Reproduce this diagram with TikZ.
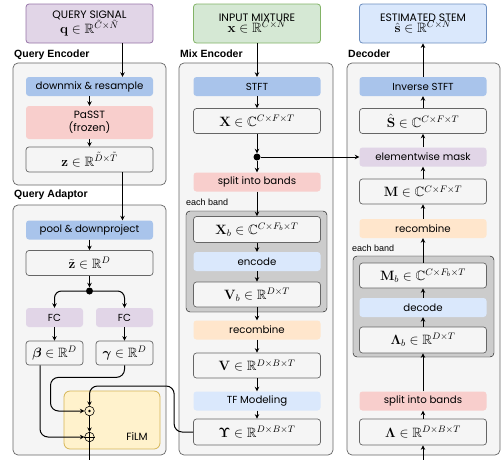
\RequirePackage{fix-cm}
\documentclass[tikz,border=0pt]{standalone}
\usepackage{amsmath,amssymb,bm}
\usepackage[no-math]{fontspec}
\setmainfont{Poppins}
\newfontfamily\ttlfont{Liberation Sans}
\usetikzlibrary{arrows.meta,positioning}

\definecolor{pfill}{HTML}{F5F5F5}
\definecolor{pborder}{HTML}{666666}
\definecolor{bandfill}{HTML}{CCCCCC}
\definecolor{dblue}{HTML}{A9C4EB}
\definecolor{lblue}{HTML}{DAE8FC}
\definecolor{pink}{HTML}{F8CECC}
\definecolor{orng}{HTML}{FFE6CC}
\definecolor{purp}{HTML}{E1D5E7}
\definecolor{purpb}{HTML}{9673A6}
\definecolor{grn}{HTML}{D5E8D4}
\definecolor{grnb}{HTML}{82B366}
\definecolor{blueb}{HTML}{6C8EBF}
\definecolor{yel}{HTML}{FFF2CC}
\definecolor{yelb}{HTML}{D6B656}

\newcommand{\iomath}[1]{{\fontsize{13.5}{14}\selectfont$#1$}}

\begin{document}
\begin{tikzpicture}[x=1pt,y=-1pt]
\tikzstyle{panel}=[draw=pborder, fill=pfill, rounded corners=5pt, line width=0.7pt]
\tikzstyle{band}=[fill=bandfill, rounded corners=4pt]
\tikzstyle{op}=[rectangle, rounded corners=3pt, minimum width=127pt, minimum height=19pt, inner sep=0pt, font=\fontsize{10.2}{12}\selectfont]
\tikzstyle{st}=[op, draw=pborder, fill=pfill, line width=0.7pt, minimum height=25pt, font=\fontsize{13.5}{15}\selectfont]
\tikzstyle{io}=[op, line width=0.8pt, minimum height=39pt, align=center, font=\fontsize{10.8}{12}\selectfont]
\tikzstyle{ttl}=[font=\ttlfont\bfseries\fontsize{10.5}{12}\selectfont, inner sep=0pt, anchor=base west]
\tikzstyle{sub}=[font=\ttlfont\fontsize{9}{10}\selectfont, inner sep=0pt, anchor=base west]
\tikzstyle{arr}=[-{Stealth[length=4.5pt,width=4.5pt]}, line width=1pt]
\tikzstyle{jn}=[circle, fill=black, inner sep=0pt, minimum size=7pt]
\tikzstyle{sym}=[circle, draw, line width=0.6pt, inner sep=0pt, minimum size=9.5pt]

\useasboundingbox (0,0) rectangle (501,459);

% panels
\draw[panel] (13,63) rectangle (166,185);
\draw[panel] (13,205) rectangle (166,455);
\draw[panel] (179,63) rectangle (333,455);
\draw[panel] (347,63) rectangle (500,455);
\draw[band] (186,211) rectangle (327,312);
\draw[band] (353,256) rectangle (494,357);
\draw[fill=yel, draw=yelb, rounded corners=6pt, line width=0.8pt] (64,391) rectangle (160,449);

\node[ttl] at (14,57) {Query Encoder};
\node[ttl] at (14,197) {Query Adaptor};
\node[ttl] at (180,57) {Mix Encoder};
\node[ttl] at (348,57) {Decoder};
\node[sub] at (186,205) {each band};
\node[sub] at (352,251) {each band};

% query branch
\node[io, fill=purp, draw=purpb] (qsig) at (89.5,23.5) {QUERY SIGNAL\\[-1pt]\iomath{\mathbf{q}\in\mathbb{R}^{\tilde{C}\times\tilde{N}}}};
\node[op, fill=dblue] (downmix) at (89.5,86.5) {downmix \& resample};
\node[op, fill=pink, minimum height=33pt, align=center, font=\fontsize{10.5}{13}\selectfont] (passt) at (89.5,122.5) {PaSST\\(frozen)};
\node[st] (z) at (89.5,159.5) {$\mathbf{z}\in\mathbb{R}^{\tilde{D}\times\tilde{T}}$};
\node[op, fill=dblue] (pool) at (89.5,230) {pool \& downproject};
\node[st] (zt) at (89.5,263) {$\tilde{\mathbf{z}}\in\mathbb{R}^{D}$};
\node[jn] (dot) at (89.5,291) {};
\node[op, fill=purp, minimum width=57pt] (fcb) at (54.5,317.5) {FC};
\node[op, fill=purp, minimum width=57pt] (fcg) at (124.5,317.5) {FC};
\node[st, minimum width=57pt, minimum height=24pt] (beta) at (54.5,353) {$\bm{\beta}\in\mathbb{R}^{D}$};
\node[st, minimum width=57pt, minimum height=24pt] (gamma) at (124.5,353) {$\bm{\gamma}\in\mathbb{R}^{D}$};
\node[sym] (odot) at (89.5,411) {};
\node[sym] (oplus) at (89.5,437) {};
\fill (odot) circle (1.3pt);
\draw[line width=0.6pt] (oplus.north) -- (oplus.south) (oplus.west) -- (oplus.east);
\node[font=\fontsize{10.5}{12}\selectfont] (film) at (137,436) {FiLM};
\coordinate (fout) at (89.5,465);

% mix encoder
\node[io, fill=grn, draw=grnb] (mix) at (257,23.5) {INPUT MIXTURE\\[-1pt]\iomath{\mathbf{x}\in\mathbb{R}^{C\times N}}};
\node[op, fill=dblue] (stft) at (257,86.5) {STFT};
\node[st] (X) at (257,121) {$\mathbf{X}\in\mathbb{C}^{C\times F\times T}$};
\node[jn] (dot2) at (257,157) {};
\node[op, fill=pink] (split) at (257,182) {split into bands};
\node[st, minimum height=26pt] (Xb) at (257,229.5) {$\mathbf{X}_b\in\mathbb{C}^{C\times F_b\times T}$};
\node[op, fill=lblue] (enc) at (257,261.5) {encode};
\node[st] (Vb) at (257,294.5) {$\mathbf{V}_b\in\mathbb{R}^{D\times T}$};
\node[op, fill=orng] (rec) at (257,330) {recombine};
\node[st] (V) at (257,365.5) {$\mathbf{V}\in\mathbb{R}^{D\times B\times T}$};
\node[op, fill=lblue] (tf) at (257,401) {TF Modeling};
\node[st, minimum height=26pt] (ups) at (257,432) {$\bm{\Upsilon}\in\mathbb{R}^{D\times B\times T}$};

% decoder
\node[io, fill=lblue, draw=blueb] (stem) at (423,23.5) {ESTIMATED STEM\\[-1pt]\iomath{\hat{\mathbf{s}}\in\mathbb{R}^{C\times N}}};
\node[op, fill=dblue] (istft) at (423,86.5) {Inverse STFT};
\node[st] (Sh) at (423,121) {$\hat{\mathbf{S}}\in\mathbb{C}^{C\times F\times T}$};
\node[op, fill=purp] (mask) at (423,157) {elementwise mask};
\node[st] (M) at (423,191.5) {$\mathbf{M}\in\mathbb{C}^{C\times F\times T}$};
\node[op, fill=orng] (rec2) at (423,228.5) {recombine};
\node[st] (Mb) at (423,275.5) {$\mathbf{M}_b\in\mathbb{C}^{C\times F_b\times T}$};
\node[op, fill=lblue] (dec) at (423,307.5) {decode};
\node[st, minimum height=26pt] (Lb) at (423,340) {$\bm{\Lambda}_b\in\mathbb{R}^{D\times T}$};
\node[op, fill=pink] (split2) at (423,401) {split into bands};
\node[st, minimum height=26pt] (L) at (423,432) {$\bm{\Lambda}\in\mathbb{R}^{D\times B\times T}$};
\coordinate (lin) at (423,465);

% query connectors
\draw[arr] ([xshift=33pt]qsig.south) -- ([xshift=33pt]downmix.north);
\draw[arr] (downmix) -- (passt);
\draw[arr] (passt) -- (z);
\draw[arr] ([xshift=33pt]z.south) -- ([xshift=33pt]pool.north);
\draw[arr] (pool) -- (zt);
\draw[arr] (zt) -- (dot);
\draw[arr, rounded corners=7pt] (dot) -| (fcb.north);
\draw[arr, rounded corners=7pt] (dot) -| (fcg.north);
\draw[arr] (fcb) -- (beta);
\draw[arr] (fcg) -- (gamma);
\draw[arr, rounded corners=8pt] (gamma.south) -- ++(0,12) -- ++(-74,0) |- (odot.west);
\draw[arr, rounded corners=8pt] ([xshift=-14.5pt]beta.south) |- (oplus.west);
\draw[arr, rounded corners=8pt] (ups.west) -- ++(-19,0) -- ++(0,-46) -| (odot.north);
\draw[arr] (odot) -- (oplus);
\draw[line width=1pt] (oplus.south) -- (fout);

% mix encoder connectors
\draw[arr] (mix) -- (stft);
\draw[arr] (stft) -- (X);
\draw[arr] (X) -- (dot2);
\draw[arr] (dot2) -- (split);
\draw[arr] (dot2) -- (mask.west);
\draw[arr] (split) -- (Xb);
\draw[arr] (Xb) -- (enc);
\draw[arr] (enc) -- (Vb);
\draw[arr] (Vb) -- (rec);
\draw[arr] (rec) -- (V);
\draw[arr] (V) -- (tf);
\draw[arr] (tf) -- (ups);

% decoder connectors
\draw[arr] (lin) -- (L);
\draw[arr] (L) -- (split2);
\draw[arr] (split2) -- (Lb);
\draw[arr] (Lb) -- (dec);
\draw[arr] (dec) -- (Mb);
\draw[arr] (Mb) -- (rec2);
\draw[arr] (rec2) -- (M);
\draw[arr] (M) -- (mask);
\draw[arr] (mask) -- (Sh);
\draw[arr] (Sh) -- (istft);
\draw[arr] (istft) -- (stem);
\end{tikzpicture}
\end{document}
